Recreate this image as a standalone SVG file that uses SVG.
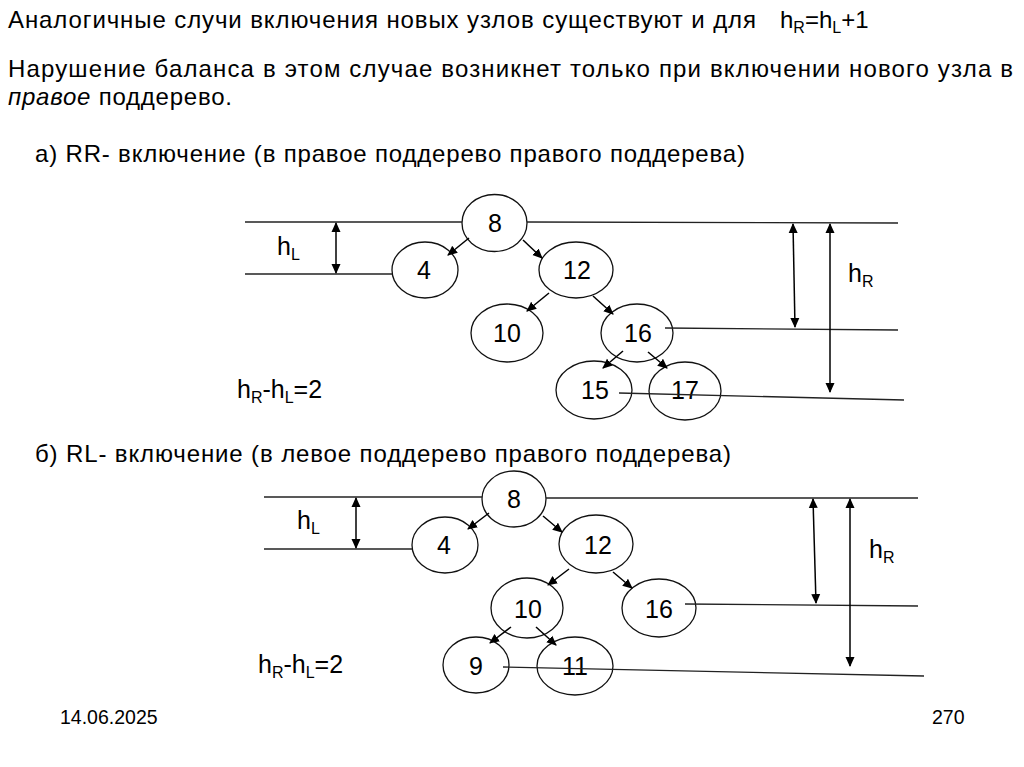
<svg xmlns="http://www.w3.org/2000/svg" width="1024" height="767" viewBox="0 0 1024 767">
<style>
text{font-family:"Liberation Sans",Arial,sans-serif;fill:#000}
.t{font-size:24px}
.l{font-size:25px}
.n{font-size:25px;text-anchor:middle}
.sub{font-size:16px}
.f{font-size:19.5px}
ellipse{fill:#fff;stroke:#111;stroke-width:1.3}
.g{stroke:#222;stroke-width:1.3;fill:none}
.e{stroke:#000;stroke-width:1.5;fill:none;marker-end:url(#ah)}
.d{stroke:#000;stroke-width:1.5;fill:none;marker-start:url(#ah2);marker-end:url(#ah)}
</style>
<defs>
<marker id="ah" viewBox="0 0 10 10" refX="9" refY="5" markerWidth="10" markerHeight="10" markerUnits="userSpaceOnUse" orient="auto">
<path d="M0,0.5 L10,5 L0,9.5 Z" fill="#000"/>
</marker>
<marker id="ah2" viewBox="0 0 10 10" refX="1" refY="5" markerWidth="10" markerHeight="10" markerUnits="userSpaceOnUse" orient="auto">
<path d="M10,0.5 L0,5 L10,9.5 Z" fill="#000"/>
</marker>
</defs>
<rect width="1024" height="767" fill="#fff"/>

<g id="header">
<text class="t" x="8" y="28" textLength="748" lengthAdjust="spacing">Аналогичные случи включения новых узлов существуют и для</text>
<text class="t" x="780" y="28">h<tspan class="sub" dy="5">R</tspan><tspan dy="-5">=h</tspan><tspan class="sub" dy="5">L</tspan><tspan dy="-5">+1</tspan></text>
<text class="t" x="8" y="77" textLength="1005" lengthAdjust="spacing">Нарушение баланса в этом случае возникнет только при включении нового узла в</text>
<text class="t" x="8" y="105" textLength="224" lengthAdjust="spacing"><tspan font-style="italic">правое</tspan> поддерево.</text>
<text class="t" x="35" y="162" textLength="710" lengthAdjust="spacing">а) RR- включение (в правое поддерево правого поддерева)</text>
<text class="t" x="35" y="462" textLength="696" lengthAdjust="spacing">б) RL- включение (в левое поддерево правого поддерева)</text>
</g>

<g id="tree1-nodes">
<g id="t1-n8"><ellipse cx="494.5" cy="223" rx="32.5" ry="28.5"/><text class="n" x="495" y="232">8</text></g>
<g id="t1-n4"><ellipse cx="425" cy="270" rx="33" ry="28"/><text class="n" x="424" y="279">4</text></g>
<g id="t1-n12"><ellipse cx="576" cy="270" rx="37" ry="28"/><text class="n" x="577" y="279">12</text></g>
<g id="t1-n10"><ellipse cx="507" cy="333" rx="36" ry="29"/><text class="n" x="507" y="342">10</text></g>
<g id="t1-n16"><ellipse cx="637" cy="333" rx="36" ry="29"/><text class="n" x="638" y="342">16</text></g>
<g id="t1-n15"><ellipse cx="594" cy="390" rx="38" ry="29"/><text class="n" x="595" y="399">15</text></g>
<g id="t1-n17"><ellipse cx="685" cy="391" rx="36" ry="29"/><text class="n" x="685" y="399">17</text></g>
</g>

<g id="tree2-nodes">
<g id="t2-n8"><ellipse cx="514" cy="499" rx="32" ry="28"/><text class="n" x="514" y="508">8</text></g>
<g id="t2-n4"><ellipse cx="445" cy="545" rx="33" ry="28"/><text class="n" x="444" y="554">4</text></g>
<g id="t2-n12"><ellipse cx="596" cy="544" rx="37" ry="29"/><text class="n" x="598" y="554">12</text></g>
<g id="t2-n10"><ellipse cx="527" cy="608" rx="36" ry="30"/><text class="n" x="528" y="618">10</text></g>
<g id="t2-n16"><ellipse cx="659" cy="608" rx="37" ry="29"/><text class="n" x="659" y="618">16</text></g>
<g id="t2-n9"><ellipse cx="476" cy="665" rx="33" ry="28"/><text class="n" x="476" y="675">9</text></g>
<g id="t2-n11"><ellipse cx="575" cy="666" rx="38" ry="29"/><text class="n" x="575" y="675">11</text></g>
</g>

<g id="guides">
<line class="g" x1="245" y1="222" x2="462" y2="222"/>
<line class="g" x1="527" y1="222" x2="898" y2="223"/>
<line class="g" x1="245" y1="274" x2="392" y2="274"/>
<line class="g" x1="665" y1="328" x2="898" y2="330"/>
<line class="g" x1="619" y1="393" x2="904" y2="400"/>
<line class="g" x1="264" y1="497" x2="482" y2="497"/>
<line class="g" x1="546" y1="498" x2="918" y2="498"/>
<line class="g" x1="264" y1="549" x2="412" y2="549"/>
<line class="g" x1="685" y1="604" x2="918" y2="606"/>
<line class="g" x1="503" y1="667" x2="924" y2="676"/>
</g>

<g id="connectors">
<line class="e" x1="469" y1="238" x2="448" y2="255"/>
<line class="e" x1="523" y1="240" x2="542" y2="258"/>
<line class="e" x1="549" y1="293" x2="527" y2="311"/>
<line class="e" x1="593" y1="296" x2="613" y2="314"/>
<line class="e" x1="623" y1="351" x2="603" y2="368"/>
<line class="e" x1="648" y1="352" x2="667" y2="368"/>
<line class="e" x1="489" y1="513" x2="468" y2="529"/>
<line class="e" x1="543" y1="516" x2="562" y2="532"/>
<line class="e" x1="569" y1="569" x2="548" y2="585"/>
<line class="e" x1="613" y1="572" x2="632" y2="588"/>
<line class="e" x1="511" y1="627" x2="490" y2="643"/>
<line class="e" x1="536" y1="627" x2="556" y2="645"/>
<line class="d" x1="336" y1="223" x2="336" y2="273"/>
<line class="d" x1="793" y1="224" x2="795" y2="327"/>
<line class="d" x1="830" y1="224" x2="830" y2="392"/>
<line class="d" x1="356" y1="498" x2="356" y2="548"/>
<line class="d" x1="813" y1="499" x2="816" y2="603"/>
<line class="d" x1="850" y1="499" x2="850" y2="666"/>
</g>

<g id="labels">
<text class="l" x="277" y="255">h<tspan class="sub" dy="5">L</tspan></text>
<text class="l" x="848" y="282">h<tspan class="sub" dy="5">R</tspan></text>
<text class="l" x="237" y="398">h<tspan class="sub" dy="5">R</tspan><tspan dy="-5">-h</tspan><tspan class="sub" dy="5">L</tspan><tspan dy="-5">=2</tspan></text>
<text class="l" x="297" y="529">h<tspan class="sub" dy="5">L</tspan></text>
<text class="l" x="869" y="558">h<tspan class="sub" dy="5">R</tspan></text>
<text class="l" x="258" y="673">h<tspan class="sub" dy="5">R</tspan><tspan dy="-5">-h</tspan><tspan class="sub" dy="5">L</tspan><tspan dy="-5">=2</tspan></text>
</g>

<g id="footer">
<text class="f" x="60" y="724">14.06.2025</text>
<text class="f" x="932" y="724">270</text>
</g>
</svg>
